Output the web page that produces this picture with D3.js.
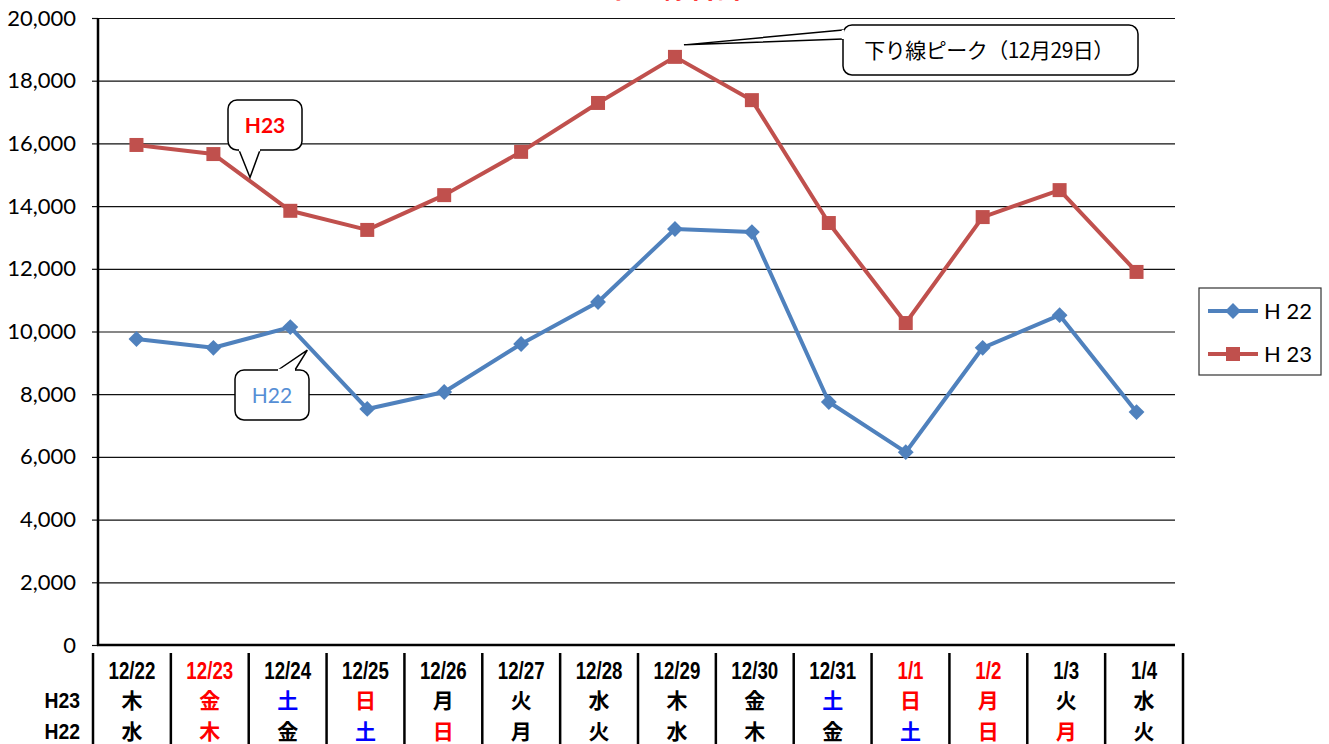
<!DOCTYPE html>
<html>
<head>
<meta charset="utf-8">
<script src="https://cdn.jsdelivr.net/npm/d3@7"></script>
<style>
  body { margin: 0; background: #fff; }
  svg { display: block; }
</style>
</head>
<body>
<svg id="viewBox" width="1329" height="744"></svg>
<script>
'use strict'

// data
const dates = ['12/22', '12/23', '12/24', '12/25', '12/26', '12/27', '12/28', '12/29', '12/30', '12/31', '1/1', '1/2', '1/3', '1/4']
const h22 = [9760, 9480, 10140, 7530, 8070, 9600, 10940, 13270, 13170, 7750, 6150, 9480, 10520, 7430]
const h23 = [15950, 15660, 13850, 13240, 14350, 15730, 17290, 18760, 17380, 13460, 10270, 13650, 14510, 11900]
const dayH23 = ['木', '金', '土', '日', '月', '火', '水', '木', '金', '土', '日', '月', '火', '水']
const dayH22 = ['水', '木', '金', '土', '日', '月', '火', '水', '木', '金', '土', '日', '月', '火']
const holidayDates = ['12/23', '1/1', '1/2']
const holidayH23 = ['12/23', '12/25', '1/1', '1/2']
const holidayH22 = ['12/23', '12/26', '1/2', '1/3']
const yTicks = [0, 2000, 4000, 6000, 8000, 10000, 12000, 14000, 16000, 18000, 20000]
const seriesNames = ['H22', 'H23']

const blue = '#4f81bd'
const red = '#c0504d'

const svg = d3.select('#viewBox')
const plotL = 98, plotR = 1175, plotT = 18, plotB = 645

const x = d3.scaleBand().domain(dates).range([plotL, plotR])
const y = d3.scaleLinear().domain([0, 20000]).range([plotB, plotT])
const cx = (d) => x(d) + x.bandwidth() / 2

// title, cut off by the top edge in the original too
svg.append('text')
    .attr('x', 675).attr('y', -2)
    .attr('text-anchor', 'middle')
    .attr('fill', 'red')
    .attr('font-family', 'Noto Sans CJK JP')
    .attr('font-weight', 'bold')
    .attr('font-size', 28)
    .text('【下り線合計】')

// grid
svg.append('g')
    .attr('transform', `translate(${plotL},0)`)
    .call(d3.axisLeft(y).tickValues(yTicks).tickSize(-(plotR - plotL)).tickFormat(''))
    .call(g => g.select('.domain').remove())
    .call(g => g.selectAll('line').attr('stroke', '#111').attr('stroke-width', 1.2))

// y axis labels
svg.append('g')
    .attr('transform', `translate(${plotL},0)`)
    .call(d3.axisLeft(y).tickValues(yTicks).tickSize(6).tickPadding(16).tickFormat(d3.format(',')))
    .call(g => g.select('.domain').remove())
    .call(g => g.selectAll('line').attr('stroke', '#111').attr('stroke-width', 1.2))
    .call(g => g.selectAll('text')
        .attr('font-family', 'Lato')
        .attr('font-size', 22)
        .attr('fill', '#000'))

// frame lines
svg.append('line')
    .attr('x1', plotL).attr('x2', plotL).attr('y1', plotT).attr('y2', plotB)
    .attr('stroke', '#000').attr('stroke-width', 2.5)
svg.append('line')
    .attr('x1', plotL - 1).attr('x2', plotR).attr('y1', plotB).attr('y2', plotB)
    .attr('stroke', '#000').attr('stroke-width', 2.5)

// lines
const line = d3.line().x((d, i) => cx(dates[i])).y(d => y(d))
svg.append('path').datum(h22)
    .attr('d', line).attr('fill', 'none')
    .attr('stroke', blue).attr('stroke-width', 4).attr('stroke-linejoin', 'round')
svg.append('path').datum(h23)
    .attr('d', line).attr('fill', 'none')
    .attr('stroke', red).attr('stroke-width', 4).attr('stroke-linejoin', 'round')

const diamond = d3.symbol().type(d3.symbolDiamond2).size(160)
const square = d3.symbol().type(d3.symbolSquare).size(196)

svg.append('g').selectAll('path')
    .data(h22)
    .join('path')
    .attr('d', diamond)
    .attr('transform', (d, i) => `translate(${cx(dates[i])},${y(d)})`)
    .attr('fill', blue)
svg.append('g').selectAll('path')
    .data(h23)
    .join('path')
    .attr('d', square)
    .attr('transform', (d, i) => `translate(${cx(dates[i])},${y(d)})`)
    .attr('fill', red)

// callouts
const roundBox = (g, bx, by, bw, bh) => {
    g.append('rect')
        .attr('x', bx).attr('y', by).attr('width', bw).attr('height', bh)
        .attr('rx', 9).attr('ry', 9)
        .attr('fill', '#fff').attr('stroke', '#000').attr('stroke-width', 1.5)
}
const pointer = (g, a, b, tip) => {
    g.append('path')
        .attr('d', `M${a[0]},${a[1]} L${tip[0]},${tip[1]} L${b[0]},${b[1]}`)
        .attr('fill', '#fff').attr('stroke', '#000').attr('stroke-width', 1.5)
    // hide box edge under pointer base
    g.append('line')
        .attr('x1', a[0]).attr('y1', a[1]).attr('x2', b[0]).attr('y2', b[1])
        .attr('stroke', '#fff').attr('stroke-width', 2.5)
}

// peak callout (12/29)
const peakIdx = h23.indexOf(d3.max(h23))
const peak = svg.append('g')
roundBox(peak, 843, 25, 295, 50)
pointer(peak, [843, 30], [843, 39], [cx(dates[peakIdx]) + 9, y(h23[peakIdx]) - 12])
peak.append('text')
    .attr('x', 989).attr('y', 58)
    .attr('text-anchor', 'middle')
    .attr('font-family', 'Noto Sans CJK JP')
    .attr('font-size', 21)
    .attr('letter-spacing', -0.5)
    .text('下り線ピーク（12月29日）')

// H23 callout
const c23 = svg.append('g')
roundBox(c23, 228, 100, 74, 50)
pointer(c23, [239, 150], [260, 150], [250, (y(h23[1]) + y(h23[2])) / 2 - 5])
c23.append('text')
    .attr('x', 265).attr('y', 133)
    .attr('text-anchor', 'middle')
    .attr('fill', 'red')
    .attr('font-family', 'Lato')
    .attr('font-weight', 'bold')
    .attr('font-size', 21)
    .text(seriesNames[1])

// H22 callout
const c22 = svg.append('g')
roundBox(c22, 235, 370, 74, 50)
pointer(c22, [278, 370], [295, 370], [cx(dates[2]) + 17, y(h22[2]) + 23])
c22.append('text')
    .attr('x', 272).attr('y', 403)
    .attr('text-anchor', 'middle')
    .attr('fill', '#558ed5')
    .attr('font-family', 'Lato')
    .attr('font-size', 21)
    .text(seriesNames[0])

// legend
const legend = svg.append('g')
legend.append('rect')
    .attr('x', 1199).attr('y', 288).attr('width', 122).attr('height', 87)
    .attr('fill', '#fff').attr('stroke', '#333').attr('stroke-width', 1.2)
const legendItems = [
    { name: seriesNames[0], color: blue, sym: diamond, yy: 311 },
    { name: seriesNames[1], color: red, sym: square, yy: 354 }
]
legendItems.forEach(it => {
    legend.append('line')
        .attr('x1', 1208).attr('x2', 1258).attr('y1', it.yy).attr('y2', it.yy)
        .attr('stroke', it.color).attr('stroke-width', 4)
    legend.append('path')
        .attr('d', it.sym)
        .attr('transform', `translate(1233,${it.yy})`)
        .attr('fill', it.color)
    legend.append('text')
        .attr('x', 1264).attr('y', it.yy + 8)
        .attr('font-family', 'Lato')
        .attr('font-size', 22)
        .text(it.name.replace('H', 'H '))
})

// table under the axis
const tx = d3.scaleBand().domain(dates).range([93, 1183])
const tcx = (d) => tx(d) + tx.bandwidth() / 2
const table = svg.append('g')
dates.concat(['end']).forEach(d => {
    const xx = d === 'end' ? tx.range()[1] : tx(d)
    table.append('line')
        .attr('x1', xx).attr('x2', xx).attr('y1', 653).attr('y2', 744)
        .attr('stroke', '#000').attr('stroke-width', 2.5)
})
const dayColor = (holidays) => (d, i) => {
    if (d === '土') return '#0000ff'
    if (holidays.includes(dates[i])) return '#ff0000'
    return '#000'
}
const cellText = (arr, yy, holidays) => {
    table.append('g').selectAll('text')
        .data(arr)
        .join('text')
        .attr('x', (d, i) => tcx(dates[i]))
        .attr('y', yy)
        .attr('text-anchor', 'middle')
        .attr('font-family', 'Noto Sans CJK JP')
        .attr('font-weight', 'bold')
        .attr('font-size', 21)
        .attr('fill', dayColor(holidays))
        .text(d => d)
}
// narrow bold date labels
table.append('g').selectAll('text')
    .data(dates)
    .join('text')
    .attr('transform', d => `translate(${tcx(d)},679) scale(0.78,1)`)
    .attr('text-anchor', 'middle')
    .attr('font-family', 'Liberation Sans')
    .attr('font-weight', 'bold')
    .attr('font-size', 24)
    .attr('fill', d => holidayDates.includes(d) ? '#ff0000' : '#000')
    .text(d => d)
cellText(dayH23, 708, holidayH23)
cellText(dayH22, 739, holidayH22)

table.append('g').selectAll('text')
    .data(seriesNames.slice().reverse())
    .join('text')
    .attr('transform', (d, i) => `translate(80,${708 + i * 31}) scale(0.88,1)`)
    .attr('text-anchor', 'end')
    .attr('font-family', 'Liberation Sans')
    .attr('font-weight', 'bold')
    .attr('font-size', 22)
    .text(d => d)
</script>
</body>
</html>
